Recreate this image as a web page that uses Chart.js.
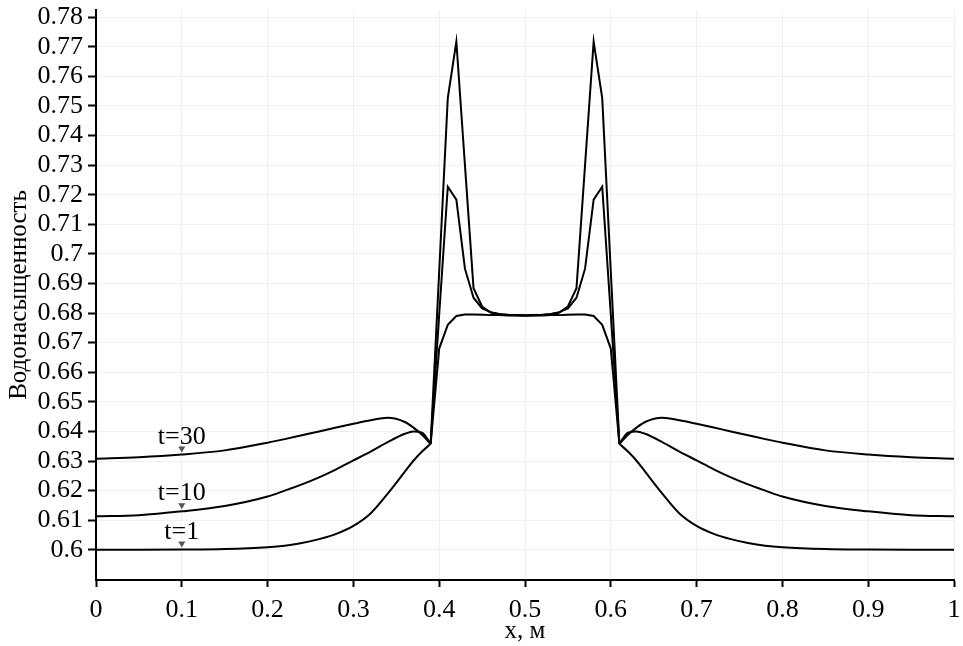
<!DOCTYPE html>
<html lang="ru">
<head>
  <meta charset="UTF-8">
  <title>Водонасыщенность</title>
  <script src="https://cdn.jsdelivr.net/npm/chart.js"></script>
  <style>
    body { margin: 0; background: #fff; }
  </style>
</head>
<body>
  <canvas id="satChart" width="963" height="646"></canvas>

  <script>
    // x, m (shared by all three curves)
    const xs = [0, 0.05, 0.1, 0.15, 0.2, 0.22, 0.24, 0.26, 0.28, 0.30, 0.32, 0.34, 0.36, 0.37, 0.38, 0.39,
      0.40, 0.41, 0.42, 0.43, 0.44, 0.45, 0.46, 0.47, 0.48, 0.50,
      0.52, 0.53, 0.54, 0.55, 0.56, 0.57, 0.58, 0.59, 0.60,
      0.61, 0.62, 0.63, 0.64, 0.66, 0.68, 0.70, 0.72, 0.74, 0.76, 0.78, 0.80, 0.85, 0.90, 0.95, 1.0];

    const sat1 = [0.6000, 0.6000, 0.6001, 0.6003, 0.6009, 0.6014, 0.6023, 0.6036, 0.6054, 0.6081, 0.6123, 0.6190, 0.6264, 0.6301, 0.6332, 0.6358,
      0.6680, 0.6760, 0.6790, 0.6795, 0.6795, 0.6794, 0.6793, 0.6793, 0.6792, 0.6792,
      0.6792, 0.6793, 0.6793, 0.6794, 0.6795, 0.6795, 0.6790, 0.6760, 0.6680,
      0.6358, 0.6332, 0.6301, 0.6264, 0.6190, 0.6123, 0.6081, 0.6054, 0.6036, 0.6023, 0.6014, 0.6009, 0.6003, 0.6001, 0.6000, 0.6000];

    const sat10 = [0.6113, 0.6117, 0.6130, 0.6148, 0.6180, 0.6200, 0.6221, 0.6245, 0.6272, 0.6302, 0.6332, 0.6364, 0.6392, 0.6400, 0.6396, 0.6358,
      0.6795, 0.7227, 0.7183, 0.6950, 0.6852, 0.6816, 0.6803, 0.6797, 0.6794, 0.6792,
      0.6794, 0.6797, 0.6803, 0.6816, 0.6852, 0.6950, 0.7183, 0.7227, 0.6795,
      0.6358, 0.6396, 0.6400, 0.6392, 0.6364, 0.6332, 0.6302, 0.6272, 0.6245, 0.6221, 0.6200, 0.6180, 0.6148, 0.6130, 0.6117, 0.6113];

    const sat30 = [0.6308, 0.6313, 0.6322, 0.6336, 0.6362, 0.6374, 0.6387, 0.6400, 0.6413, 0.6426, 0.6438, 0.6446, 0.6432, 0.6413, 0.6389, 0.6358,
      0.6940, 0.7526, 0.7717, 0.7300, 0.6884, 0.6822, 0.6802, 0.6796, 0.6793, 0.6792,
      0.6793, 0.6796, 0.6802, 0.6822, 0.6884, 0.7300, 0.7717, 0.7526, 0.6940,
      0.6358, 0.6389, 0.6413, 0.6432, 0.6446, 0.6438, 0.6426, 0.6413, 0.6400, 0.6387, 0.6374, 0.6362, 0.6336, 0.6322, 0.6313, 0.6308];

    const curveNames = ['t=1', 't=10', 't=30'];
    const labelAt = 0.1;

    const xTicks = [0, 0.1, 0.2, 0.3, 0.4, 0.5, 0.6, 0.7, 0.8, 0.9, 1];
    const yTicks = [0.6, 0.61, 0.62, 0.63, 0.64, 0.65, 0.66, 0.67, 0.68, 0.69, 0.7,
      0.71, 0.72, 0.73, 0.74, 0.75, 0.76, 0.77, 0.78];

    const serif = "'Liberation Serif', 'Times New Roman', serif";

    // the smooth outer parts get a monotone spline, the fronts stay as straight segments
    const leftEnd = xs.indexOf(0.39);
    const rightStart = xs.indexOf(0.61);
    const pieces = [
      { from: 0, to: leftEnd, smooth: true },
      { from: leftEnd, to: rightStart, smooth: false },
      { from: rightStart, to: xs.length - 1, smooth: true },
    ];

    // t=... caption with a small arrow above each curve
    const curveMarks = {
      id: 'curveMarks',
      afterDatasetsDraw(chart) {
        const { ctx, scales: { x, y } } = chart;
        const i = xs.indexOf(labelAt);
        [sat1, sat10, sat30].forEach((arr, k) => {
          const px = x.getPixelForValue(labelAt);
          const py = y.getPixelForValue(arr[i]);
          ctx.save();
          ctx.fillStyle = '#555';
          ctx.beginPath();
          ctx.moveTo(px - 3.5, py - 8);
          ctx.lineTo(px + 3.5, py - 8);
          ctx.lineTo(px, py - 2);
          ctx.closePath();
          ctx.fill();
          ctx.fillStyle = '#000';
          ctx.font = '26px ' + serif;
          ctx.textAlign = 'center';
          ctx.textBaseline = 'alphabetic';
          ctx.fillText(curveNames[k], px, py - 11);
          ctx.restore();
        });
      }
    };

    const datasets = [];
    [sat1, sat10, sat30].forEach((arr, k) => {
      pieces.forEach(p => {
        const pts = [];
        for (let i = p.from; i <= p.to; i++) pts.push({ x: xs[i], y: arr[i] });
        datasets.push({
          label: curveNames[k],
          data: pts,
          borderColor: '#000',
          borderWidth: 2,
          pointRadius: 0,
          tension: 0,
          cubicInterpolationMode: p.smooth ? 'monotone' : 'default',
          fill: false,
        });
      });
    });

    const fmt = v => String(Math.round(v * 100) / 100);

    new Chart(document.getElementById('satChart'), {
      type: 'line',
      data: { datasets: datasets },
      options: {
        responsive: false,
        devicePixelRatio: 1,
        animation: false,
        layout: { padding: { top: 10, right: 9, left: 0, bottom: 0 } },
        plugins: {
          legend: { display: false },
          tooltip: { enabled: false },
        },
        scales: {
          x: {
            type: 'linear',
            min: 0,
            max: 1,
            afterBuildTicks: s => { s.ticks = xTicks.map(v => ({ value: v })); },
            afterFit: s => { s.height = 66; s.paddingLeft = 0; s.paddingRight = 0; },
            ticks: {
              color: '#000',
              font: { family: serif, size: 26 },
              padding: 8,
              maxRotation: 0,
              autoSkip: false,
              callback: fmt,
            },
            grid: { color: '#f0f0f0', lineWidth: 1, tickColor: '#000', tickLength: 7, tickWidth: 2 },
            border: { color: '#000', width: 2 },
            title: {
              display: true,
              text: 'x, м',
              color: '#000',
              font: { family: serif, size: 25 },
              padding: { top: 0, bottom: 0 },
            },
          },
          y: {
            min: 0.5898,
            max: 0.7824,
            afterBuildTicks: s => { s.ticks = yTicks.map(v => ({ value: v })); },
            afterFit: s => { s.width = 96; s.paddingTop = 0; s.paddingBottom = 0; },
            ticks: {
              color: '#000',
              font: { family: serif, size: 26 },
              padding: 5,
              autoSkip: false,
              callback: fmt,
            },
            grid: { color: '#f0f0f0', lineWidth: 1, tickColor: '#000', tickLength: 8, tickWidth: 2 },
            border: { color: '#000', width: 2 },
            title: {
              display: true,
              text: 'Водонасыщенность',
              color: '#000',
              font: { family: serif, size: 25 },
              padding: { top: 4, bottom: 0 },
            },
          },
        },
      },
      plugins: [curveMarks],
    });
  </script>
</body>
</html>
